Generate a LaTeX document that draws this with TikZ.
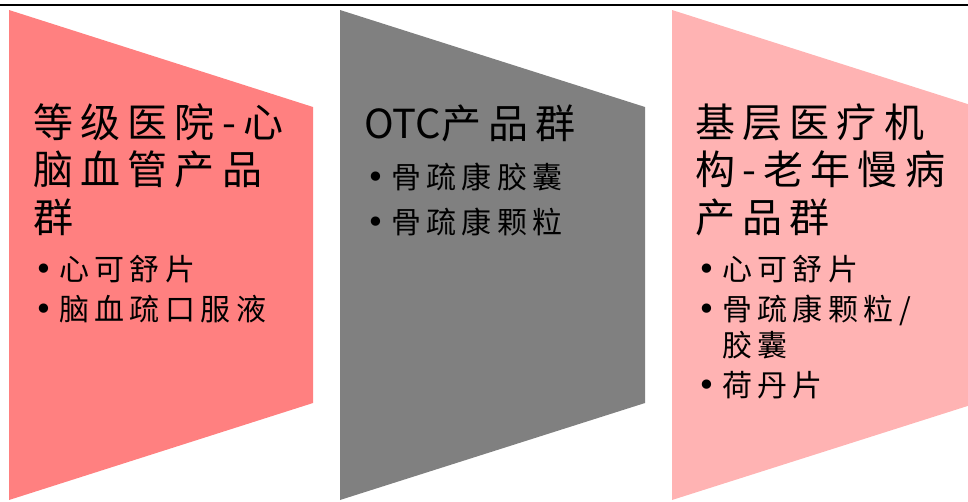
\documentclass[tikz,border=0pt]{standalone}
\usepackage{fontspec}
\newfontfamily\cjk[LetterSpace=18]{Noto Sans CJK SC}
\newfontfamily\cjkplain{Noto Sans CJK SC}
\newfontfamily\dotfont{DejaVu Sans}
\definecolor{hospred}{HTML}{FF8080}
\definecolor{otcgray}{HTML}{808080}
\definecolor{basepink}{HTML}{FFB3B3}
\newcommand{\itm}{\makebox[25pt][l]{\dotfont\fontsize{32}{36}\selectfont •}}
\begin{document}
\begin{tikzpicture}[x=1pt,y=-1pt,
    grptitle/.style={anchor=base west, inner sep=0pt, font=\cjk\fontsize{40}{46}\selectfont},
    grplist/.style={anchor=base west, inner sep=0pt, font=\cjk\fontsize{30}{36}\selectfont}]
  \useasboundingbox (0,0) rectangle (968,501);
  \clip (0,0) rectangle (968,501);
  \draw[line width=2pt] (0,5) -- (968,5);
  % three trapezoids
  \fill[hospred] (9,10) -- (313,107) -- (313,403) -- (9,500) -- cycle;
  \fill[otcgray] (340,10) -- (645,107) -- (645,403) -- (340,500) -- cycle;
  \fill[basepink] (672,10) -- (977,107) -- (977,403) -- (672,500) -- cycle;
  % texts
  \node[grptitle] (hosptitle) at (33,137) {\begin{tabular}[t]{@{}l@{}}等级医院-心\\脑血管产品\\群\end{tabular}};
  \node[grplist] (hosplist) at (34,280) {\begin{tabular}[t]{@{}l@{}}\itm 心可舒片\\[4pt]\itm 脑血疏口服液\end{tabular}};
  \node[grptitle] (otctitle) at (364,138) {\begin{tabular}[t]{@{}l@{}}{\cjkplain OTC}产品群\end{tabular}};
  \node[grplist] (otclist) at (366,188) {\begin{tabular}[t]{@{}l@{}}\itm 骨疏康胶囊\\[9pt]\itm 骨疏康颗粒\end{tabular}};
  \node[grptitle] (basetitle) at (695,137) {\begin{tabular}[t]{@{}l@{}}基层医疗机\\构-老年慢病\\产品群\end{tabular}};
  \node[grplist] (baselist) at (697,280) {\begin{tabular}[t]{@{}l@{}}\itm 心可舒片\\[4pt]\itm 骨疏康颗粒/\\\hspace{25pt}胶囊\\[4pt]\itm 荷丹片\end{tabular}};
\end{tikzpicture}
\end{document}
